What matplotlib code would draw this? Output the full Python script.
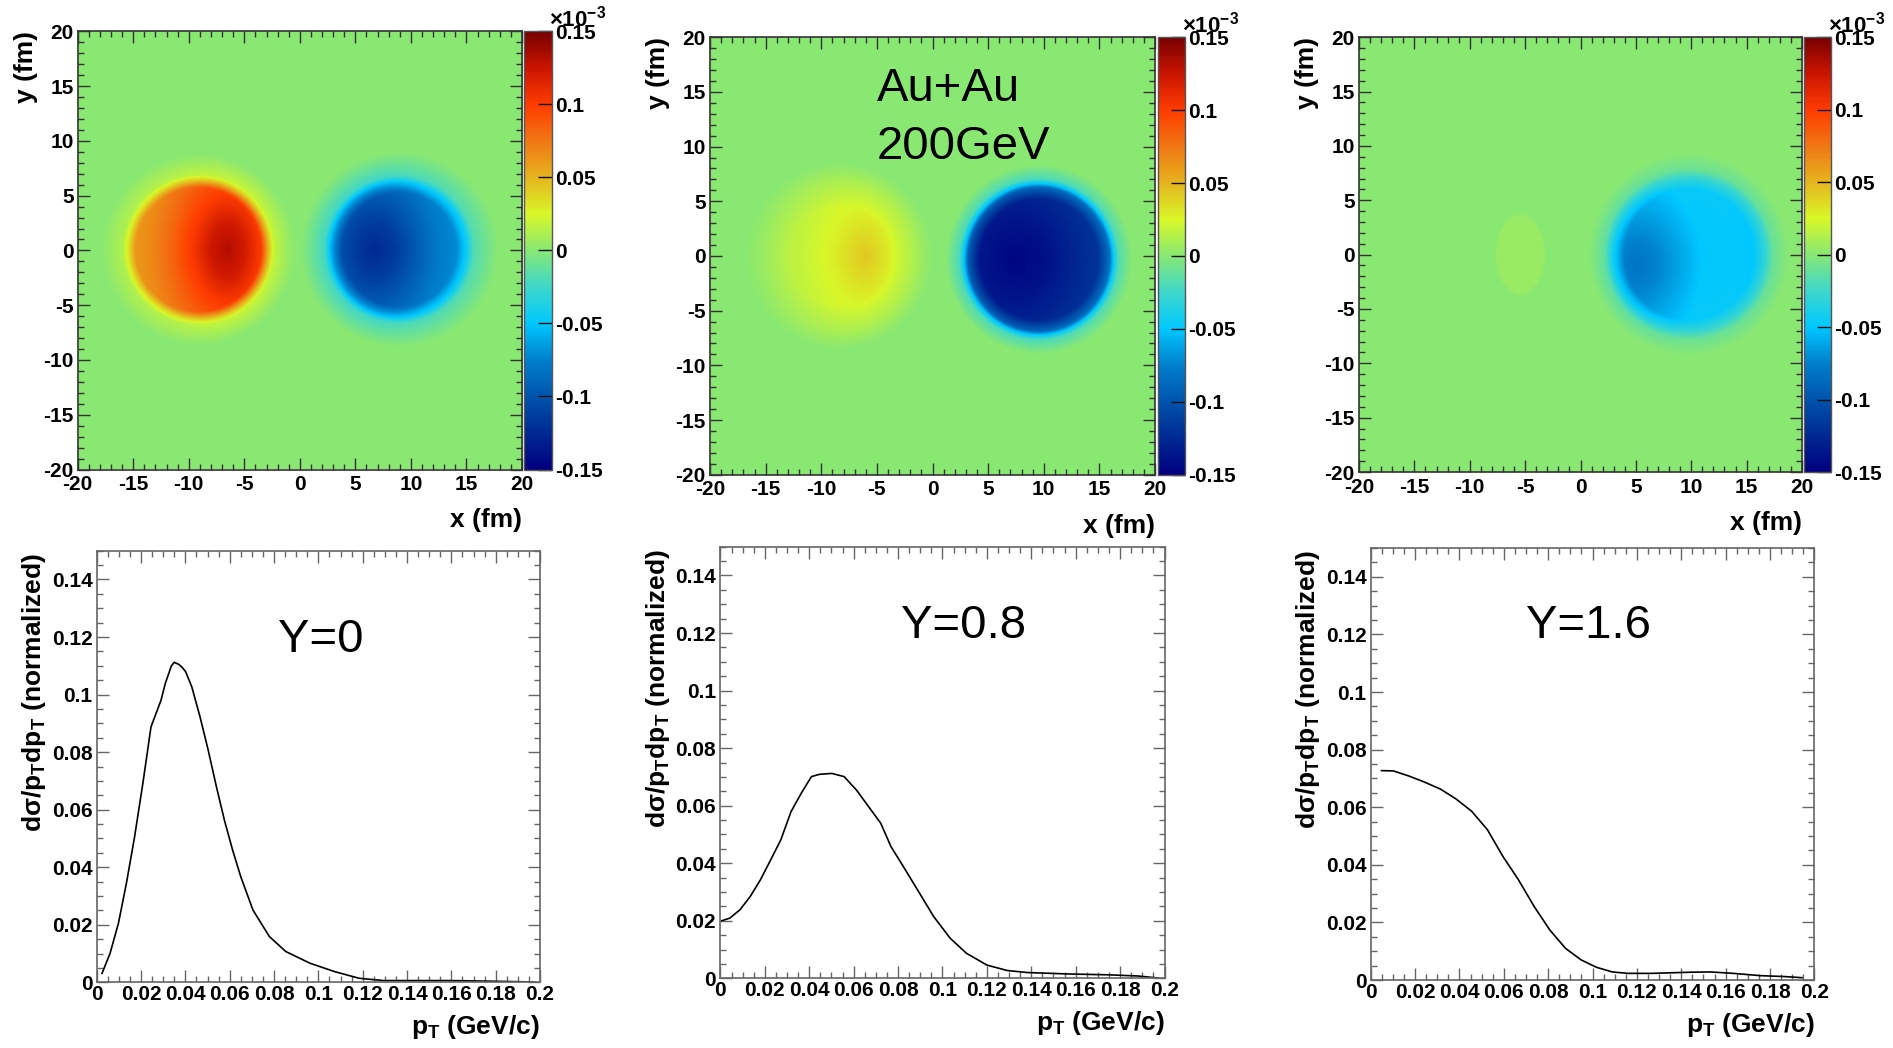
import numpy as np
import matplotlib
matplotlib.use("Agg")
import matplotlib.pyplot as plt
from matplotlib.colors import LinearSegmentedColormap
from matplotlib.ticker import MultipleLocator, FuncFormatter

plt.rcParams['font.family'] = ['Liberation Sans', 'DejaVu Sans']
plt.rcParams['font.weight'] = 'bold'
plt.rcParams['axes.unicode_minus'] = False
plt.rcParams['mathtext.fontset'] = 'custom'
plt.rcParams['mathtext.rm'] = 'Liberation Sans:bold'
plt.rcParams['mathtext.it'] = 'Liberation Sans:bold'
plt.rcParams['mathtext.bf'] = 'Liberation Sans:bold'

# ---- pT spectra ----
pt_y0 = [0.0024, 0.006, 0.0098, 0.0134, 0.0171, 0.0208, 0.0245, 0.029, 0.031, 0.0337,
         0.035, 0.037, 0.0385, 0.0401, 0.0429, 0.0466, 0.0503, 0.054, 0.0576, 0.0613,
         0.065, 0.0705, 0.0779, 0.0853, 0.0963, 0.1074, 0.1184, 0.1295, 0.159, 0.177, 0.1976]
dn_y0 = [0.0031, 0.010, 0.0205, 0.0344, 0.0506, 0.069, 0.0888, 0.098, 0.104, 0.1100,
         0.1112, 0.1105, 0.1095, 0.108, 0.1027, 0.0923, 0.0807, 0.068, 0.0564, 0.046,
         0.0367, 0.0251, 0.0159, 0.0107, 0.0066, 0.0037, 0.0014, 0.0006, 0.0006, 0.0004, 0.0001]

pt_y08 = [0.0006, 0.0042, 0.0088, 0.0134, 0.018, 0.0226, 0.0272, 0.0318, 0.0364, 0.041,
          0.0447, 0.0502, 0.0557, 0.0612, 0.0667, 0.0722, 0.0768, 0.0833, 0.0888, 0.0961,
          0.1035, 0.1108, 0.12, 0.1292, 0.1384, 0.1568, 0.1752, 0.188, 0.1972]
dn_y08 = [0.0200, 0.0209, 0.0238, 0.0284, 0.0342, 0.0411, 0.0481, 0.0579, 0.0643, 0.0701,
          0.0709, 0.0712, 0.0701, 0.0655, 0.0597, 0.0539, 0.0458, 0.0377, 0.0307, 0.0214,
          0.0139, 0.0087, 0.0046, 0.0027, 0.0020, 0.0015, 0.0012, 0.0008, 0.0001]

pt_y16 = [0.0049, 0.0102, 0.0173, 0.0243, 0.0314, 0.0384, 0.0455, 0.0526, 0.0596, 0.0666,
          0.0737, 0.0807, 0.0878, 0.0948, 0.1018, 0.1089, 0.1159, 0.1265, 0.1441, 0.1530,
          0.1635, 0.1759, 0.1864, 0.1944]
dn_y16 = [0.0727, 0.0726, 0.0708, 0.0687, 0.0663, 0.0629, 0.0586, 0.0522, 0.0429, 0.0348,
          0.0255, 0.0174, 0.0110, 0.0070, 0.0044, 0.0028, 0.0023, 0.0023, 0.0027, 0.0028,
          0.0023, 0.0015, 0.0012, 0.0008]

rap_labels = ["Y=0", "Y=0.8", "Y=1.6"]

# ---- transverse maps ----
# each spot: disk (cx, cy, rx, ry), hot spot (kx, ky, y-squash),
# value vs distance from hot spot, and edge fall-off vs scaled radius
# Y=0
s0a_geo = [-9.2, 0.0, 6.3, 6.3]
s0a_core = [-6.5, 0.0, 0.6]
s0a_d = [0.0, 1.5, 3.0, 5.0, 7.0, 10.0]
s0a_v = [0.135, 0.125, 0.105, 0.085, 0.070, 0.060]
s0a_er = [0.0, 0.9, 1.0, 1.08, 1.4]
s0a_ef = [1.0, 0.95, 0.5, 0.2, 0.0]
s0b_geo = [8.9, 0.0, 6.1, 6.1]
s0b_core = [6.5, 0.0, 0.7]
s0b_d = [0.0, 2.0, 4.0, 6.0, 9.0]
s0b_v = [-0.128, -0.115, -0.097, -0.080, -0.070]
s0b_er = [0.0, 0.85, 1.0, 1.1, 1.45]
s0b_ef = [1.0, 0.95, 0.6, 0.25, 0.0]
# Y=0.8
s1a_geo = [-8.5, 0.0, 7.5, 7.5]
s1a_core = [-6.0, 0.0, 0.6]
s1a_d = [0.0, 1.5, 3.0, 5.0, 8.0, 11.0]
s1a_v = [0.045, 0.036, 0.028, 0.022, 0.015, 0.008]
s1a_er = [0.0, 0.6, 0.9, 1.15]
s1a_ef = [1.0, 0.9, 0.5, 0.0]
s1b_geo = [9.6, -0.3, 6.7, 6.9]
s1b_core = [7.2, -0.3, 0.8]
s1b_d = [0.0, 3.0, 6.0, 10.0]
s1b_v = [-0.148, -0.140, -0.128, -0.115]
s1b_er = [0.0, 0.8, 0.95, 1.0, 1.07, 1.25]
s1b_ef = [1.0, 0.97, 0.7, 0.4, 0.15, 0.0]
# Y=1.6
s2a_geo = [-5.45, 0.0, 2.35, 3.9]
s2a_core = [-5.45, 0.0, 1.0]
s2a_d = [0.0, 10.0]
s2a_v = [0.005, 0.005]
s2a_er = [0.0, 0.9, 1.0]
s2a_ef = [1.0, 1.0, 0.0]
s2b_geo = [9.8, 0.0, 6.9, 7.1]
s2b_core = [5.0, -1.0, 0.7]
s2b_d = [0.0, 2.0, 4.0, 6.0, 9.0, 12.0]
s2b_v = [-0.085, -0.075, -0.062, -0.050, -0.050, -0.055]
s2b_er = [0.0, 0.85, 1.0, 1.1, 1.3]
s2b_ef = [1.0, 0.95, 0.55, 0.2, 0.0]

# ROOT-like palette
pal_pos = [0.0, 0.12, 0.25, 0.333, 0.42, 0.5, 0.583, 0.667, 0.75, 0.833, 0.92, 1.0]
pal_col = ['#000080', '#003c9c', '#0080cc', '#00c8ff', '#40d8c8', '#88e874',
           '#d8f828', '#e6b41e', '#f07814', '#ff3c00', '#c81400', '#780000']
cmap = LinearSegmentedColormap.from_list("rootpal", list(zip(pal_pos, pal_col)))


def spot(X, Y, geo, core, dd, dv, er, ef):
    cx, cy, rx, ry = geo
    kx, ky, sq = core
    rho = np.hypot((X - cx) / rx, (Y - cy) / ry)
    d = np.hypot(X - kx, (Y - ky) * sq)
    return np.interp(d, dd, dv) * np.interp(rho, er, ef)


g = np.linspace(-20, 20, 401)
X, Y = np.meshgrid(g, g)
fields = [
    spot(X, Y, s0a_geo, s0a_core, s0a_d, s0a_v, s0a_er, s0a_ef)
    + spot(X, Y, s0b_geo, s0b_core, s0b_d, s0b_v, s0b_er, s0b_ef),
    spot(X, Y, s1a_geo, s1a_core, s1a_d, s1a_v, s1a_er, s1a_ef)
    + spot(X, Y, s1b_geo, s1b_core, s1b_d, s1b_v, s1b_er, s1b_ef),
    spot(X, Y, s2a_geo, s2a_core, s2a_d, s2a_v, s2a_er, s2a_ef)
    + spot(X, Y, s2b_geo, s2b_core, s2b_d, s2b_v, s2b_er, s2b_ef),
]
spectra = [(pt_y0, dn_y0), (pt_y08, dn_y08), (pt_y16, dn_y16)]

W, H = 1893.0, 1048.0
# pixel boxes: left, top, right, bottom
heat_box = [(77.7, 31.4, 522, 469.5), (710, 37.2, 1155, 474.7), (1359, 37.2, 1802, 472)]
cbar_x = [(524, 552), (1157.6, 1185), (1804, 1831)]
spec_box = [(96.7, 550.7, 540, 982.3), (720.4, 546.7, 1164.5, 978.3), (1370.7, 548, 1814.4, 980)]
label_pos = [(0.0816, 0.1148), (0.0813, 0.1183), (0.0698, 0.1188)]


def rect(l, t, r, b):
    return [l / W, (H - b) / H, (r - l) / W, (b - t) / H]


def style(ax, col):
    for s in ax.spines.values():
        s.set_color(col)
        s.set_linewidth(1.2)
    ax.tick_params(which='both', direction='in', top=True, right=True, color=col,
                   width=1.0, labelsize=15)
    ax.tick_params(which='major', length=8.6)
    ax.tick_params(which='minor', length=4.3)
    ax.tick_params(axis='x', pad=3)
    ax.tick_params(axis='y', pad=3)


fig = plt.figure(figsize=(18.93, 10.48), dpi=100)
fmt = FuncFormatter(lambda v, p: f"{v:g}" if abs(v) > 1e-9 else "0")

for i in range(3):
    ax = fig.add_axes(rect(*heat_box[i]))
    im = ax.imshow(fields[i], extent=[-20, 20, -20, 20], origin='lower', cmap=cmap,
                   vmin=-0.15, vmax=0.15, aspect='auto', interpolation='bilinear')
    ax.set_xlim(-20, 20)
    ax.set_ylim(-20, 20)
    ax.xaxis.set_major_locator(MultipleLocator(5))
    ax.xaxis.set_minor_locator(MultipleLocator(1))
    ax.yaxis.set_major_locator(MultipleLocator(5))
    ax.yaxis.set_minor_locator(MultipleLocator(1))
    ax.xaxis.set_major_formatter(fmt)
    ax.yaxis.set_major_formatter(fmt)
    style(ax, '#333333')
    ax.tick_params(axis='x', pad=4)
    ax.text(1.0, -0.089, "x (fm)", transform=ax.transAxes, ha='right', va='top', fontsize=19)
    ax.text(-0.09, 1.0, "y (fm)", transform=ax.transAxes, ha='right', va='top',
            rotation=90, fontsize=19)

    l, t, r, b = heat_box[i]
    cax = fig.add_axes(rect(cbar_x[i][0], t, cbar_x[i][1], b))
    cb = fig.colorbar(im, cax=cax)
    cb.set_ticks([-0.15, -0.1, -0.05, 0, 0.05, 0.1, 0.15])
    cb.ax.yaxis.set_major_formatter(fmt)
    cb.outline.set_edgecolor('#555555')
    cb.outline.set_linewidth(1.0)
    cax.tick_params(direction='in', length=10, width=1.0, color='#111111', labelsize=15, pad=2)
    fig.text((cbar_x[i][1] - 3) / W, 1 - (t - 5) / H, r"$\times$10$^{-3}$", fontsize=16,
             ha='left', va='baseline')

    if i == 1:
        ax.text(-5.0, 14.2, "Au+Au", fontsize=34, fontweight='normal', va='baseline')
        ax.text(-5.0, 8.9, "200GeV", fontsize=34, fontweight='normal', va='baseline')

for i in range(3):
    ax = fig.add_axes(rect(*spec_box[i]))
    ax.plot(spectra[i][0], spectra[i][1], color='black', lw=1.2)
    ax.set_xlim(0, 0.2)
    ax.set_ylim(0, 0.15)
    ax.xaxis.set_major_locator(MultipleLocator(0.02))
    ax.xaxis.set_minor_locator(MultipleLocator(0.005))
    ax.yaxis.set_major_locator(MultipleLocator(0.02))
    ax.yaxis.set_minor_locator(MultipleLocator(0.005))
    ax.xaxis.set_major_formatter(fmt)
    ax.yaxis.set_major_formatter(fmt)
    style(ax, '#666666')
    ax.tick_params(axis='x', pad=2)
    ax.text(1.0, -0.071, r"p$_\mathrm{T}$ (GeV/c)", transform=ax.transAxes,
            ha='right', va='top', fontsize=19)
    ax.text(-0.11, 0.995, r"d$\sigma$/p$_\mathrm{T}$dp$_\mathrm{T}$ (normalized)",
            transform=ax.transAxes, ha='right', va='top', rotation=90, fontsize=19)
    ax.text(label_pos[i][0], label_pos[i][1], rap_labels[i], fontsize=34,
            fontweight='normal', va='baseline')

fig.savefig("out.png", dpi=100)
